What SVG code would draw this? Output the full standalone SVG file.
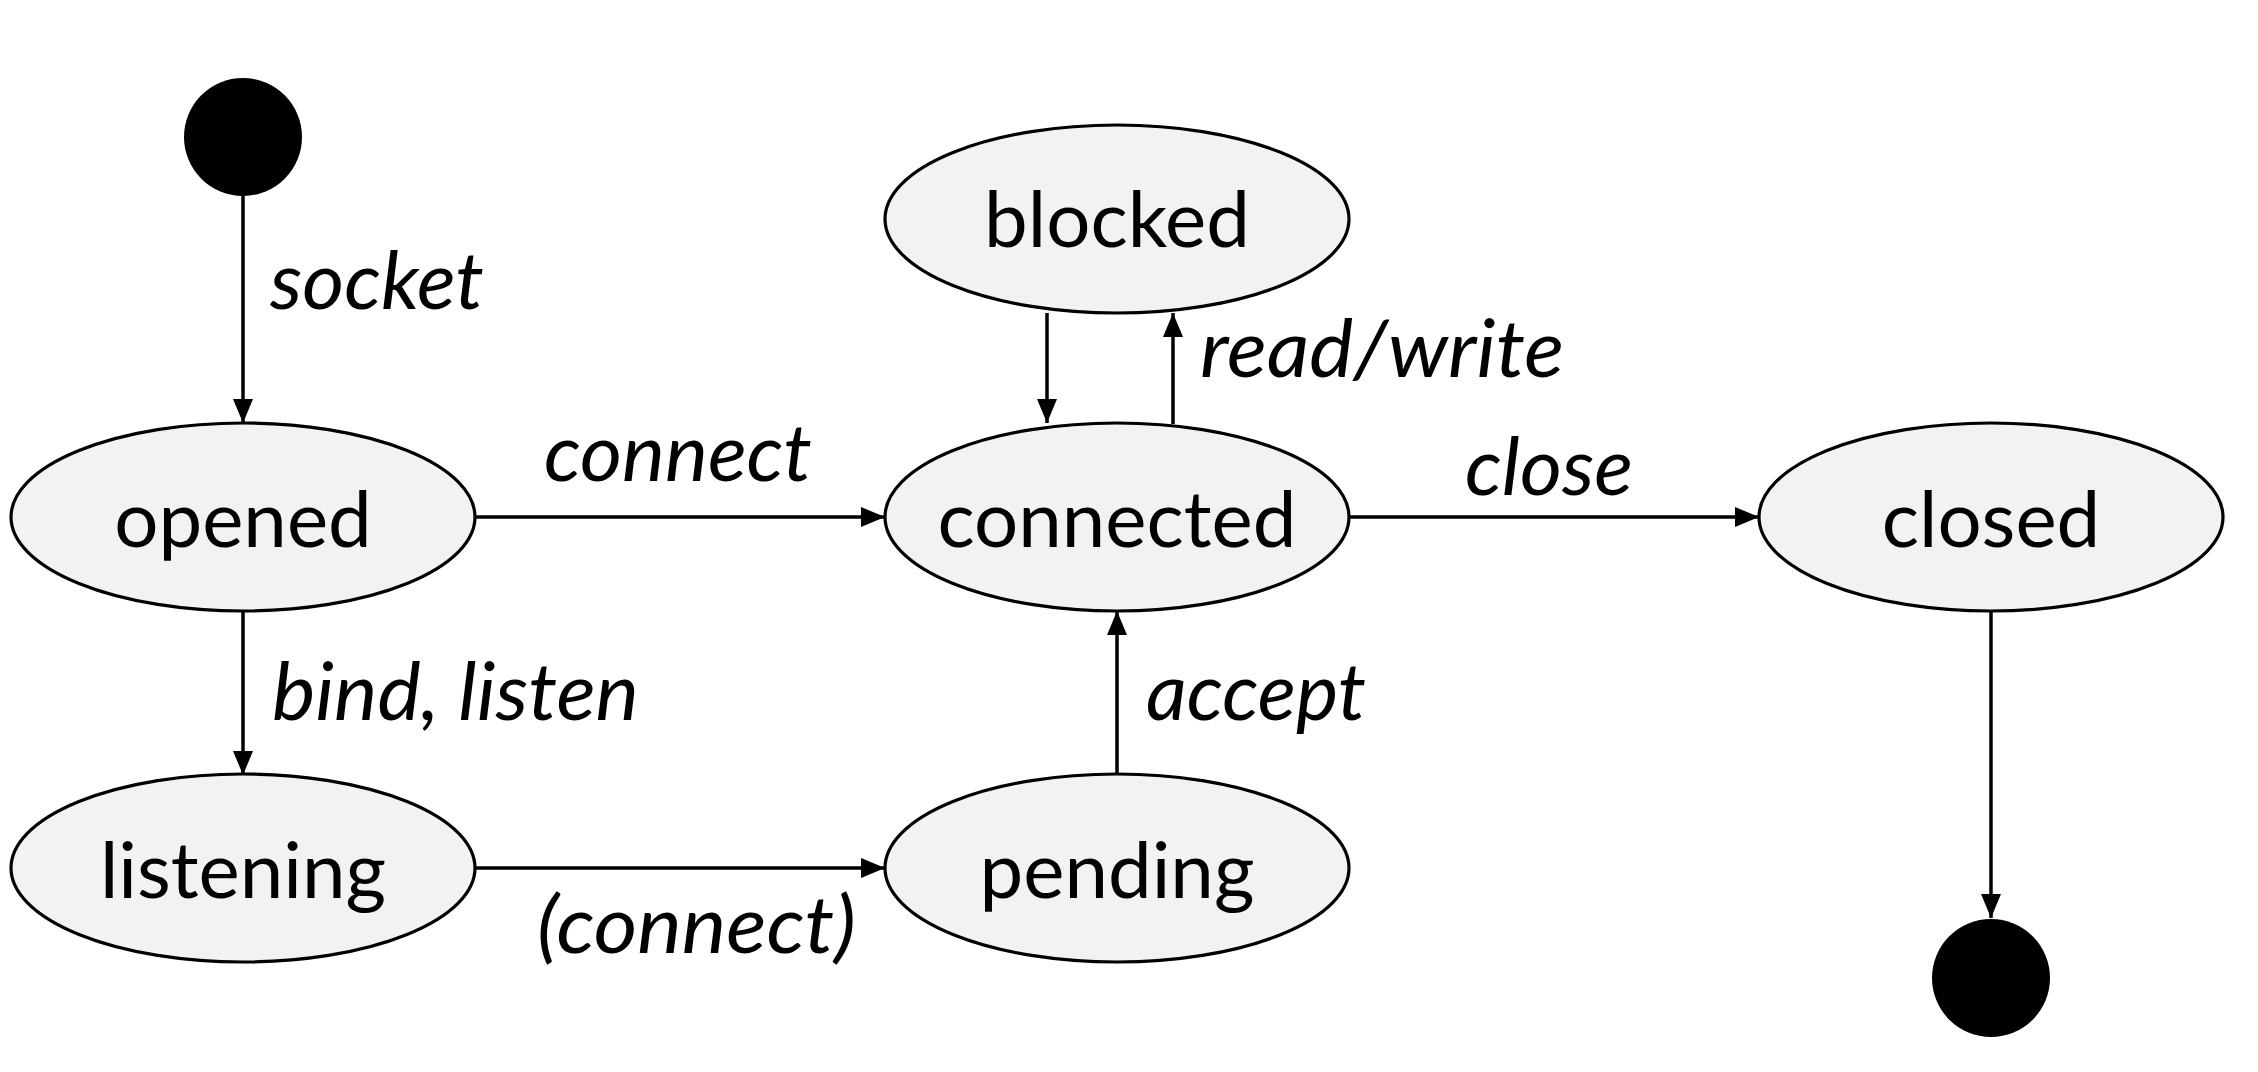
<svg xmlns="http://www.w3.org/2000/svg" width="2258" height="1072" viewBox="0 0 2258 1072">
<style>
.state{fill:#f2f2f2;stroke:#000;stroke-width:3.2}
.pseudo{fill:#000}
.lbl{font-family:Lato,"Liberation Sans",sans-serif;font-size:78px;fill:#000;text-anchor:middle}
.ev{font-family:Lato,"Liberation Sans",sans-serif;font-size:80px;font-style:italic;fill:#000}
.edge{stroke:#000;stroke-width:3.5;fill:none;marker-end:url(#ah)}
</style>
<defs>
<marker id="ah" markerUnits="userSpaceOnUse" markerWidth="24" markerHeight="22" viewBox="0 0 24 22" refX="24" refY="11" orient="auto">
<path d="M0,1 L24,11 L0,21 Z" fill="#000"/>
</marker>
</defs>
<rect width="2258" height="1072" fill="#fff"/>
<g id="connectors">
<line class="edge" x1="243" y1="196" x2="243" y2="423"/>
<line class="edge" x1="476" y1="517" x2="885" y2="517"/>
<line class="edge" x1="1047" y1="313" x2="1047" y2="423"/>
<line class="edge" x1="1173" y1="424" x2="1173" y2="313"/>
<line class="edge" x1="1349" y1="517" x2="1759" y2="517"/>
<line class="edge" x1="1991" y1="611" x2="1991" y2="918"/>
<line class="edge" x1="243" y1="611" x2="243" y2="775"/>
<line class="edge" x1="476" y1="868" x2="885" y2="868"/>
<line class="edge" x1="1117" y1="775" x2="1117" y2="611"/>
<text class="ev" x="270" y="309" textLength="214" lengthAdjust="spacingAndGlyphs">socket</text>
<text class="ev" x="544" y="481" textLength="268" lengthAdjust="spacingAndGlyphs">connect</text>
<text class="ev" x="1200" y="377" textLength="364" lengthAdjust="spacingAndGlyphs">read/write</text>
<text class="ev" x="1465" y="495" textLength="168" lengthAdjust="spacingAndGlyphs">close</text>
<text class="ev" x="272" y="720" textLength="367" lengthAdjust="spacingAndGlyphs">bind, listen</text>
<text class="ev" x="537" y="953" textLength="319" lengthAdjust="spacingAndGlyphs">(connect)</text>
<text class="ev" x="1146" y="720" textLength="220" lengthAdjust="spacingAndGlyphs">accept</text>
</g>
<g id="start"><circle class="pseudo" cx="243" cy="137" r="59"/></g>
<g id="end"><circle class="pseudo" cx="1991" cy="978" r="59"/></g>
<g id="opened"><ellipse class="state" cx="243" cy="517" rx="232" ry="94"/><text class="lbl" x="243" y="547">opened</text></g>
<g id="blocked"><ellipse class="state" cx="1117" cy="219" rx="232" ry="94"/><text class="lbl" x="1117" y="247">blocked</text></g>
<g id="connected"><ellipse class="state" cx="1117" cy="517" rx="232" ry="94"/><text class="lbl" x="1117" y="547">connected</text></g>
<g id="closed"><ellipse class="state" cx="1991" cy="517" rx="232" ry="94"/><text class="lbl" x="1991" y="547">closed</text></g>
<g id="listening"><ellipse class="state" cx="243" cy="868" rx="232" ry="94"/><text class="lbl" x="243" y="898">listening</text></g>
<g id="pending"><ellipse class="state" cx="1117" cy="868" rx="232" ry="94"/><text class="lbl" x="1117" y="898">pending</text></g>
</svg>
